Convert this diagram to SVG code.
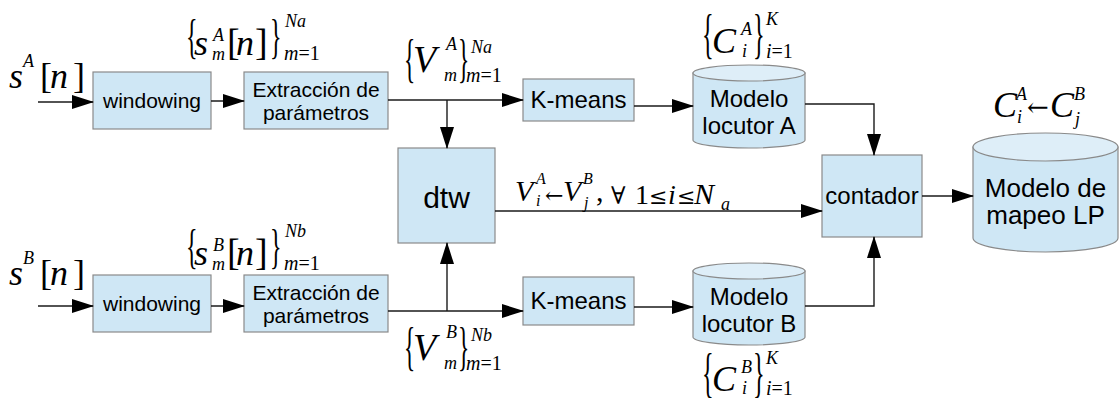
<svg xmlns="http://www.w3.org/2000/svg" width="1120" height="398" viewBox="0 0 1120 398">
  <style>
    .box { fill: #cfe7f5; stroke: #8a8a8a; stroke-width: 1.2; }
    .cyl { fill: #cfe7f5; stroke: #8a8a8a; stroke-width: 1.2; }
    .cyltop { fill: #deeef8; stroke: #8a8a8a; stroke-width: 1.2; }
    .lbl { font-family: "Liberation Sans", Arial, sans-serif; fill: #000; text-anchor: middle; }
    .wire { fill: none; stroke: #1a1a1a; stroke-width: 1.4; }
    .mi { font-family: "Liberation Serif", "Times New Roman", serif; font-style: italic; fill: #000; }
    .mr { font-family: "Liberation Serif", "Times New Roman", serif; fill: #000; }
    .sym { font-family: "DejaVu Serif", "Liberation Serif", serif; fill: #000; }
  </style>
  <defs>
    <marker id="arrow" markerUnits="userSpaceOnUse" markerWidth="22" markerHeight="14" refX="21" refY="7" orient="auto">
      <path d="M0,0 L22,7 L0,14 Z" fill="#000"/>
    </marker>
  </defs>

  <rect width="1120" height="398" fill="#fff"/>

  <!-- processing chain, speaker A -->
  <g id="windowing-a">
    <rect class="box" x="93" y="72" width="118" height="57"/>
    <text class="lbl" x="152" y="108" font-size="21">windowing</text>
  </g>
  <g id="extraccion-a">
    <rect class="box" x="244" y="72" width="144" height="57"/>
    <text class="lbl" x="316" y="97" font-size="21">Extracción de</text>
    <text class="lbl" x="316" y="120" font-size="21">parámetros</text>
  </g>
  <g id="kmeans-a">
    <rect class="box" x="523" y="79" width="111" height="42"/>
    <text class="lbl" x="578.5" y="108" font-size="24">K-means</text>
  </g>
  <g id="modelo-a">
    <path class="cyl" d="M693,73 L693,140 A56,8 0 0 0 805,140 L805,73 Z"/>
    <ellipse class="cyltop" cx="749" cy="73" rx="56" ry="8"/>
    <text class="lbl" x="749" y="107" font-size="24">Modelo</text>
    <text class="lbl" x="749" y="134" font-size="24">locutor A</text>
  </g>

  <!-- processing chain, speaker B -->
  <g id="windowing-b">
    <rect class="box" x="93" y="275" width="118" height="57"/>
    <text class="lbl" x="152" y="311" font-size="21">windowing</text>
  </g>
  <g id="extraccion-b">
    <rect class="box" x="244" y="275" width="144" height="57"/>
    <text class="lbl" x="316" y="300" font-size="21">Extracción de</text>
    <text class="lbl" x="316" y="323" font-size="21">parámetros</text>
  </g>
  <g id="kmeans-b">
    <rect class="box" x="523" y="277" width="111" height="48"/>
    <text class="lbl" x="578.5" y="309" font-size="24">K-means</text>
  </g>
  <g id="modelo-b">
    <path class="cyl" d="M693,271 L693,337 A56,8 0 0 0 805,337 L805,271 Z"/>
    <ellipse class="cyltop" cx="749" cy="271" rx="56" ry="8"/>
    <text class="lbl" x="749" y="305" font-size="24">Modelo</text>
    <text class="lbl" x="749" y="332" font-size="24">locutor B</text>
  </g>

  <!-- alignment and mapping -->
  <g id="dtw">
    <rect class="box" x="398" y="148" width="97" height="95"/>
    <text class="lbl" x="446.5" y="208" font-size="30">dtw</text>
  </g>
  <g id="contador">
    <rect class="box" x="822" y="155" width="100" height="82"/>
    <text class="lbl" x="872" y="204" font-size="24">contador</text>
  </g>
  <g id="modelo-lp">
    <path class="cyl" d="M973,147 L973,238 A72.5,14 0 0 0 1118,238 L1118,147 Z"/>
    <ellipse class="cyltop" cx="1045.5" cy="147" rx="72.5" ry="14"/>
    <text class="lbl" x="1045.5" y="197" font-size="26">Modelo de</text>
    <text class="lbl" x="1045.5" y="224" font-size="26">mapeo LP</text>
  </g>

  <!-- connectors -->
  <g id="connectors">
    <line class="wire" x1="38" y1="102" x2="93" y2="102" marker-end="url(#arrow)"/>
    <line class="wire" x1="211" y1="101" x2="244" y2="101" marker-end="url(#arrow)"/>
    <line class="wire" x1="388" y1="100" x2="523" y2="100" marker-end="url(#arrow)"/>
    <line class="wire" x1="447" y1="100" x2="447" y2="148" marker-end="url(#arrow)"/>
    <line class="wire" x1="634" y1="106" x2="693" y2="106" marker-end="url(#arrow)"/>
    <polyline class="wire" points="805,104 874,104 874,155" marker-end="url(#arrow)"/>

    <line class="wire" x1="38" y1="306" x2="93" y2="306" marker-end="url(#arrow)"/>
    <line class="wire" x1="211" y1="306" x2="244" y2="306" marker-end="url(#arrow)"/>
    <line class="wire" x1="388" y1="311" x2="523" y2="311" marker-end="url(#arrow)"/>
    <line class="wire" x1="447" y1="311" x2="447" y2="243" marker-end="url(#arrow)"/>
    <line class="wire" x1="634" y1="307" x2="693" y2="307" marker-end="url(#arrow)"/>
    <polyline class="wire" points="805,306 874,306 874,237" marker-end="url(#arrow)"/>

    <line class="wire" x1="495" y1="211" x2="822" y2="211" marker-end="url(#arrow)"/>
    <line class="wire" x1="922" y1="196" x2="973" y2="196" marker-end="url(#arrow)"/>
  </g>

  <!-- formula labels -->
  <g id="labels">
    <!-- s^A[n] -->
    <text class="mi" x="9" y="88" font-size="36">s</text>
    <text class="mi" x="23" y="67" font-size="18">A</text>
    <text class="mr" x="40" y="88" font-size="36">[</text>
    <text class="mi" x="50" y="88" font-size="36">n</text>
    <text class="mr" x="73" y="88" font-size="36">]</text>

    <!-- s^B[n] -->
    <text class="mi" x="9" y="285" font-size="36">s</text>
    <text class="mi" x="23" y="264" font-size="18">B</text>
    <text class="mr" x="40" y="285" font-size="36">[</text>
    <text class="mi" x="50" y="285" font-size="36">n</text>
    <text class="mr" x="73" y="285" font-size="36">]</text>

    <!-- {s^A_m[n]}_{m=1}^{Na} -->
    <text class="mr" transform="translate(186,53) scale(0.5,1)" font-size="48">{</text>
    <text class="mi" x="194" y="55" font-size="36">s</text>
    <text class="mi" x="213" y="41" font-size="18">A</text>
    <text class="mi" x="212" y="60" font-size="18">m</text>
    <text class="mr" x="227" y="55" font-size="38">[</text>
    <text class="mi" x="236" y="55" font-size="36">n</text>
    <text class="mr" x="255" y="55" font-size="38">]</text>
    <text class="mr" transform="translate(270,53) scale(0.5,1)" font-size="48">}</text>
    <text class="mi" x="285" y="27" font-size="18">Na</text>
    <text x="284" y="60" font-size="20"><tspan class="mi">m</tspan><tspan class="mr">=1</tspan></text>

    <!-- {s^B_m[n]}_{m=1}^{Nb} -->
    <text class="mr" transform="translate(186,263) scale(0.5,1)" font-size="48">{</text>
    <text class="mi" x="194" y="265" font-size="36">s</text>
    <text class="mi" x="213" y="251" font-size="18">B</text>
    <text class="mi" x="212" y="270" font-size="18">m</text>
    <text class="mr" x="227" y="265" font-size="38">[</text>
    <text class="mi" x="236" y="265" font-size="36">n</text>
    <text class="mr" x="255" y="265" font-size="38">]</text>
    <text class="mr" transform="translate(270,263) scale(0.5,1)" font-size="48">}</text>
    <text class="mi" x="285" y="237" font-size="18">Nb</text>
    <text x="284" y="270" font-size="20"><tspan class="mi">m</tspan><tspan class="mr">=1</tspan></text>

    <!-- {V^A_m}_{m=1}^{Na} -->
    <text class="mr" transform="translate(404,76) scale(0.45,1)" font-size="52">{</text>
    <text class="mi" x="413" y="72" font-size="38">V</text>
    <text class="mi" x="446" y="50" font-size="18">A</text>
    <text class="mi" x="444" y="81" font-size="18">m</text>
    <text class="mr" transform="translate(458,76) scale(0.45,1)" font-size="52">}</text>
    <text class="mi" x="471" y="53" font-size="18">Na</text>
    <text x="466" y="82" font-size="20"><tspan class="mi">m</tspan><tspan class="mr">=1</tspan></text>

    <!-- {V^B_m}_{m=1}^{Nb} -->
    <text class="mr" transform="translate(404,364) scale(0.45,1)" font-size="52">{</text>
    <text class="mi" x="413" y="360" font-size="38">V</text>
    <text class="mi" x="446" y="338" font-size="18">B</text>
    <text class="mi" x="444" y="369" font-size="18">m</text>
    <text class="mr" transform="translate(458,364) scale(0.45,1)" font-size="52">}</text>
    <text class="mi" x="471" y="341" font-size="18">Nb</text>
    <text x="466" y="370" font-size="20"><tspan class="mi">m</tspan><tspan class="mr">=1</tspan></text>

    <!-- {C^A_i}_{i=1}^{K} -->
    <text class="mr" transform="translate(702,52) scale(0.45,1)" font-size="54">{</text>
    <text class="mi" x="712" y="53" font-size="36">C</text>
    <text class="mi" x="741" y="35" font-size="18">A</text>
    <text class="mi" x="742" y="57" font-size="18">i</text>
    <text class="mr" transform="translate(753,52) scale(0.45,1)" font-size="54">}</text>
    <text class="mi" x="766" y="25" font-size="18">K</text>
    <text x="766" y="58" font-size="20"><tspan class="mi">i</tspan><tspan class="mr">=1</tspan></text>

    <!-- {C^B_i}_{i=1}^{K} -->
    <text class="mr" transform="translate(702,391) scale(0.45,1)" font-size="54">{</text>
    <text class="mi" x="712" y="391" font-size="36">C</text>
    <text class="mi" x="741" y="373" font-size="18">B</text>
    <text class="mi" x="742" y="394" font-size="18">i</text>
    <text class="mr" transform="translate(753,391) scale(0.45,1)" font-size="54">}</text>
    <text class="mi" x="766" y="364" font-size="18">K</text>
    <text x="766" y="395" font-size="20"><tspan class="mi">i</tspan><tspan class="mr">=1</tspan></text>

    <!-- C^A_i <- C^B_j -->
    <text class="mi" x="993" y="117" font-size="36">C</text>
    <text class="mi" x="1016" y="100" font-size="18">A</text>
    <text class="mi" x="1017" y="123" font-size="18">i</text>
    <text class="sym" x="1027" y="116" font-size="26">←</text>
    <text class="mi" x="1050" y="117" font-size="36">C</text>
    <text class="mi" x="1074" y="100" font-size="18">B</text>
    <text class="mi" x="1075" y="125" font-size="18">j</text>

    <!-- V^A_i <- V^B_j, forall 1 <= i <= N_a -->
    <text class="mi" x="515" y="201" font-size="30">V</text>
    <text class="mi" x="536" y="184" font-size="16">A</text>
    <text class="mi" x="536" y="206" font-size="16">i</text>
    <text class="sym" x="545" y="203" font-size="22">←</text>
    <text class="mi" x="563" y="201" font-size="30">V</text>
    <text class="mi" x="583" y="184" font-size="16">B</text>
    <text class="mi" x="584" y="208" font-size="16">j</text>
    <text class="mr" x="596" y="201" font-size="30">,</text>
    <text class="sym" x="611" y="204" font-size="24">∀</text>
    <text class="mr" x="635" y="204" font-size="28">1</text>
    <text class="sym" x="649" y="204" font-size="22">≤</text>
    <text class="mi" x="668" y="204" font-size="28">i</text>
    <text class="sym" x="677" y="204" font-size="22">≤</text>
    <text class="mi" x="694" y="204" font-size="30">N</text>
    <text class="mi" x="721" y="210" font-size="18">a</text>
  </g>
</svg>
